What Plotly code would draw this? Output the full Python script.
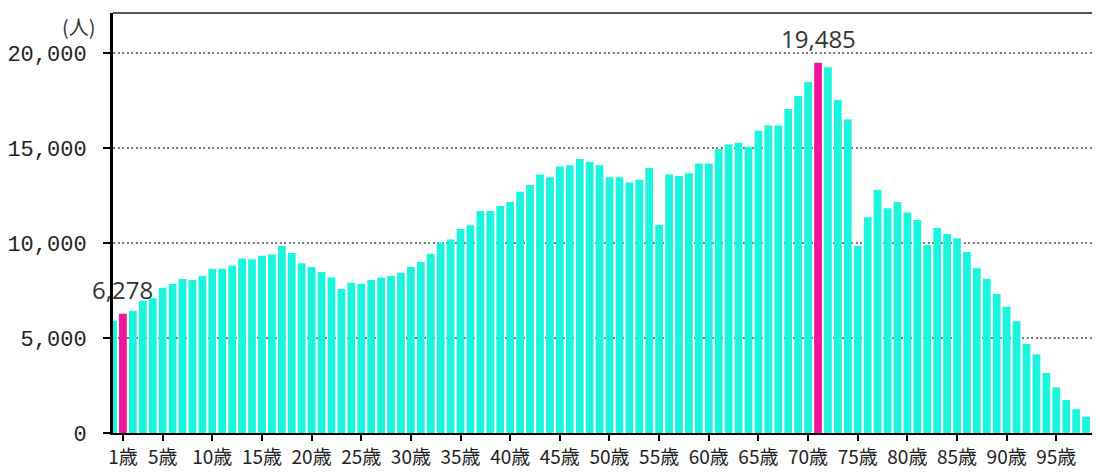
import plotly.graph_objects as go

# ---- data ----
ages = list(range(0, 100))
population = [
    5910, 6278, 6440, 6960, 7090, 7650, 7840, 8100, 8050, 8260,
    8650, 8650, 8800, 9190, 9140, 9330, 9400, 9840, 9470, 8930,
    8740, 8470, 8190, 7580, 7910, 7850, 8050, 8190, 8260, 8440,
    8740, 9000, 9420, 10030, 10190, 10740, 10930, 11680, 11680, 11950,
    12160, 12700, 13050, 13610, 13460, 14020, 14090, 14420, 14280, 14090,
    13460, 13460, 13190, 13330, 13950, 10950, 13600, 13530, 13670, 14190,
    14190, 14950, 15190, 15280, 15070, 15910, 16190, 16190, 17050, 17740,
    18470, 19485, 19250, 17530, 16510, 9840, 11350, 12790, 11830, 12160,
    11610, 11210, 9900, 10790, 10470, 10250, 9530, 8670, 8120, 7320,
    6650, 5880, 4680, 4140, 3160, 2400, 1740, 1250, 860, 560,
]
highlight_ages = [1, 71]
x_tick_values = [1, 5, 10, 15, 20, 25, 30, 35, 40, 45, 50, 55, 60, 65, 70, 75, 80, 85, 90, 95]
x_tick_labels = ["1歳", "5歳", "10歳", "15歳", "20歳", "25歳", "30歳", "35歳", "40歳", "45歳",
                 "50歳", "55歳", "60歳", "65歳", "70歳", "75歳", "80歳", "85歳", "90歳", "95歳"]
y_tick_values = [0, 5000, 10000, 15000, 20000]
y_tick_labels = ["0", "5,000", "10,000", "15,000", "20,000"]
unit_label = "(人)"

# ---- styling ----
BASE = "#1CF5DD"
HIGH = "#EE169E"
colors = [HIGH if a in highlight_ages else BASE for a in ages]

fig = go.Figure(
    go.Bar(
        x=ages,
        y=population,
        marker=dict(color=colors, line=dict(width=0)),
        hoverinfo="x+y",
    )
)

for a in highlight_ages:
    v = population[ages.index(a)]
    fig.add_annotation(
        x=a, y=v, xref="x", yref="y",
        text=f"{v:,}", showarrow=False,
        yanchor="bottom", xanchor="center", yshift=6,
        font=dict(family="Open Sans, Noto Sans, sans-serif", size=24, color="#333333"),
    )

fig.add_annotation(
    x=-0.034, y=0.968, xref="paper", yref="paper",
    text=unit_label, showarrow=False, xanchor="center", yanchor="middle",
    font=dict(family="Noto Sans CJK JP, sans-serif", size=20, color="#333333"),
)

# top border line
fig.add_shape(type="line", xref="paper", yref="paper", x0=0, x1=1, y0=1, y1=1,
              line=dict(color="#555555", width=2))

fig.update_layout(
    width=1092, height=464,
    margin=dict(l=105, r=0, t=5, b=39, autoexpand=False),
    paper_bgcolor="white", plot_bgcolor="white",
    bargap=0.22,
    showlegend=False,
    xaxis=dict(
        range=[0, 99.4],
        tickmode="array", tickvals=x_tick_values, ticktext=x_tick_labels,
        ticks="outside", ticklen=6, tickwidth=2, tickcolor="black",
        showline=True, linecolor="black", linewidth=2,
        showgrid=False, zeroline=False,
        tickfont=dict(family="Noto Sans CJK JP, sans-serif", size=19, color="#222222"),
        ticklabelstandoff=0,
    ),
    yaxis=dict(
        range=[0, 22105],
        tickmode="array", tickvals=y_tick_values, ticktext=y_tick_labels,
        ticks="outside", ticklen=7, tickwidth=2, tickcolor="black",
        showline=True, linecolor="black", linewidth=3,
        showgrid=True, gridcolor="#7a7a7a", gridwidth=2, griddash="2px,2.5px",
        zeroline=False,
        tickfont=dict(family="Liberation Mono, DejaVu Sans Mono, monospace", size=22, color="#222222"),
        ticklabelstandoff=12,
    ),
)

fig.write_html("out.html")
